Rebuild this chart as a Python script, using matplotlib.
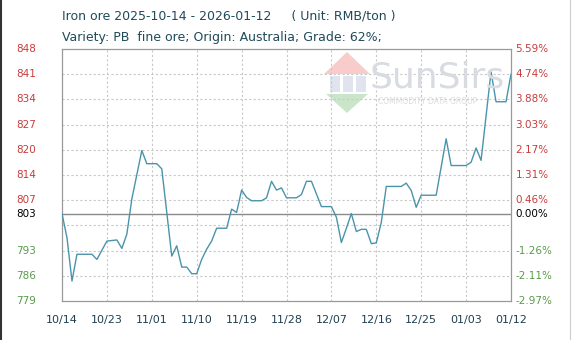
import matplotlib
matplotlib.use("Agg")
import matplotlib.pyplot as plt
import numpy as np
import pandas as pd
from matplotlib.patches import Polygon, Rectangle

# ---- data ----
start_date = "2025-10-14"
day_offsets = [0, 1, 2, 3, 6, 7, 9, 11, 12, 13, 14, 16, 17, 19, 20, 22, 23, 24, 25, 26,
               27, 28, 29, 30, 31, 33, 34, 35, 36, 37, 38, 40, 41, 42, 43, 44, 45, 47,
               48, 49, 50, 52, 54, 55, 56, 57, 58, 59, 60, 61, 62, 63, 64, 65, 68, 69,
               70, 71, 72, 75, 77, 78, 81, 82, 83, 84, 86, 87, 89, 90]
prices = [803, 796.4, 784.6, 791.9, 791.9, 790.5, 795.5, 795.8, 793.5, 797.4, 807,
          820.2, 816.6, 816.6, 815.2, 791.4, 794.2, 788.4, 788.4, 786.6, 786.6, 790.5,
          793.3, 795.5, 799, 799, 804.2, 803.3, 809.4, 807.4, 806.5, 806.5, 807.3,
          811.8, 809.4, 810, 807.3, 807.3, 808.2, 811.8, 811.8, 804.9, 804.9, 802,
          795.1, 799, 803, 798.1, 798.7, 798.7, 794.8, 795, 800.6, 810.4, 810.4,
          811.3, 809.3, 804.7, 808, 808, 823.4, 816.1, 816.1, 817, 820.9, 817.5,
          841.7, 833.5, 833.5, 841]
base_price = 803
left_labels = ["779", "786", "793", "", "807", "814", "820", "827", "834", "841", "848"]
right_labels = ["-2.97%", "-2.11%", "-1.26%", "", "0.46%", "1.31%", "2.17%", "3.03%",
                "3.88%", "4.74%", "5.59%"]
xtick_labels = ["10/14", "10/23", "11/01", "11/10", "11/19", "11/28", "12/07",
                "12/16", "12/25", "01/03", "01/12"]
title1 = "Iron ore 2025-10-14 - 2026-01-12     ( Unit: RMB/ton )"
title2 = "Variety: PB  fine ore; Origin: Australia; Grade: 62%;"

# ---- figure ----
W, H = 577, 340
fig = plt.figure(figsize=(W / 100, H / 100), dpi=100)
fig.patch.set_facecolor("white")
ax = fig.add_axes([62 / W, 1 - 301 / H, (511 - 62) / W, (301 - 49) / H])

dates = pd.to_datetime(start_date) + pd.to_timedelta(day_offsets, unit="D")
x0 = pd.to_datetime(start_date)
xdays = np.array([(d - x0).days for d in dates])

ymin = base_price * (1 - 0.0297)
ymax = base_price * (1 + 0.0559)
ax.set_ylim(ymin, ymax)
ax.set_xlim(0, 90)

# grid
ygrid = np.linspace(ymin, ymax, len(left_labels))
xgrid = np.arange(0, 91, 9)
for yv in ygrid[1:-1]:
    ax.axhline(yv, color="#c8c8c8", lw=0.8, ls=(0, (2, 2)), zorder=1)
for xv in xgrid[1:-1]:
    ax.axvline(xv, color="#c8c8c8", lw=0.8, ls=(0, (2, 2)), zorder=1)
ax.axhline(base_price, color="#8a8a8a", lw=1.0, zorder=2)

# watermark
def fx(px):
    return px / W

def fy(py):
    return 1 - py / H

def wm_poly(pts, color, alpha):
    ax.add_patch(Polygon(pts, closed=True, transform=fig.transFigure, facecolor=color,
                         edgecolor="none", alpha=alpha, zorder=0))

wm_poly([(fx(324), fy(74)), (fx(347), fy(52)), (fx(370), fy(74))], "#f08080", 0.4)
wm_poly([(fx(326), fy(94)), (fx(347), fy(113)), (fx(368), fy(94))], "#7fbf7f", 0.4)
for cx in [330, 343, 356]:
    ax.add_patch(Rectangle((fx(cx), fy(92)), fx(10), fy(76) - fy(92), transform=fig.transFigure,
                           facecolor="#9aa8c8", alpha=0.3, edgecolor="none", zorder=0))
fig.text(fx(370), fy(78), "SunSirs", fontsize=26, color="#d8dbe2", va="center", ha="left",
         family="DejaVu Sans", zorder=0)
fig.text(fx(378), fy(101), "COMMODITY DATA GROUP", fontsize=5.5, color="#dcdcdc",
         va="center", ha="left", zorder=0)

# line
ax.plot(xdays, prices, color="#4a94ab", lw=1.0, zorder=3)

# spines
for s in ax.spines.values():
    s.set_color("#999999")
    s.set_linewidth(0.9)

ax.set_xticks(xgrid)
ax.set_xticklabels(xtick_labels, fontsize=8, color="#1f3f4f")
ax.tick_params(axis="x", length=0, pad=10)
ax.set_yticks([])

# y labels
def lab_color(v):
    if v > base_price + 0.01:
        return "#c83c3c"
    if v < base_price - 0.01:
        return "#5a9a4a"
    return "#000000"

for yv, ll, rl in zip(ygrid, left_labels, right_labels):
    if ll:
        ax.text(-0.058, yv, ll, transform=ax.get_yaxis_transform(), fontsize=7.5,
                color=lab_color(yv), ha="right", va="center")
    if rl:
        ax.text(1.01, yv, rl, transform=ax.get_yaxis_transform(), fontsize=7.5,
                color=lab_color(yv), ha="left", va="center")
ax.text(-0.058, base_price, str(base_price), transform=ax.get_yaxis_transform(),
        fontsize=7.5, color="black", ha="right", va="center")
ax.text(1.01, base_price, "0.00%", transform=ax.get_yaxis_transform(),
        fontsize=7.5, color="black", ha="left", va="center")

fig.text(fx(62), fy(16), title1, fontsize=9, color="#1f4a5a", ha="left", va="center")
fig.text(fx(62), fy(37), title2, fontsize=9, color="#1f4a5a", ha="left", va="center")

# frame border
fig.add_artist(plt.Line2D([fx(1), fx(1)], [0, 1], color="#333333", lw=1.5,
                          transform=fig.transFigure))
fig.add_artist(plt.Line2D([fx(570), fx(570)], [0, 1], color="#cccccc", lw=0.8,
                          transform=fig.transFigure))

fig.savefig("out.png", dpi=100, facecolor="white")
